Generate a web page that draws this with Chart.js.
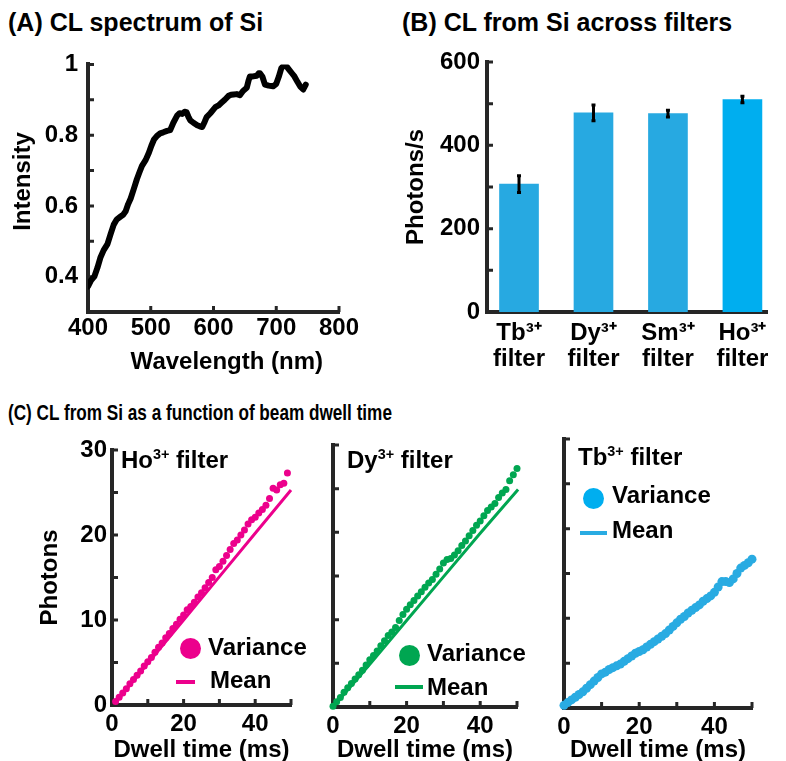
<!DOCTYPE html>
<html>
<head>
<meta charset="utf-8">
<script src="https://cdn.jsdelivr.net/npm/chart.js@4.4.1/dist/chart.umd.min.js"></script>
<style>
  body { margin: 0; width: 786px; height: 761px; overflow: hidden; background: #fff; position: relative;
         font-family: "Liberation Sans", Arial, sans-serif; font-weight: bold; color: #000; }
  canvas { position: absolute; }
  .title { position: absolute; font-size: 25px; line-height: 25px; white-space: nowrap; }
  .narrow { font-size: 22px; line-height: 22px; transform: scaleX(0.78); transform-origin: left top; }
  .lbl { position: absolute; font-size: 24px; line-height: 24px; white-space: nowrap; }
  .lbl sup { font-size: 60%; line-height: 0; }
  .dot { position: absolute; width: 21px; height: 21px; border-radius: 50%; }
  .dash { position: absolute; height: 4px; }
</style>
</head>
<body>
<div class="title" style="left:8px;top:10px">(A) CL spectrum of Si</div>
<div class="title" style="left:402px;top:10px">(B) CL from Si across filters</div>
<div class="title narrow" style="left:8px;top:402px">(C) CL from Si as a function of beam dwell time</div>

<canvas id="specChart" width="395" height="350" style="left:0;top:40px"></canvas>
<canvas id="filterChart" width="396" height="350" style="left:390px;top:40px"></canvas>
<canvas id="hoChart" width="300" height="345" style="left:20px;top:420px"></canvas>
<canvas id="dyChart" width="300" height="345" style="left:245px;top:420px"></canvas>
<canvas id="tbChart" width="316" height="355" style="left:470px;top:410px"></canvas>

<div class="lbl" style="left:121px;top:448px">Ho<sup>3+</sup> filter</div>
<span class="dot" style="left:180px;top:638px;background:#EC008C"></span>
<div class="lbl" style="left:208px;top:635px">Variance</div>
<span class="dash" style="left:176px;top:680px;width:19px;background:#EC008C"></span>
<div class="lbl" style="left:210px;top:668px">Mean</div>

<div class="lbl" style="left:347px;top:448px">Dy<sup>3+</sup> filter</div>
<span class="dot" style="left:399px;top:645px;background:#00A651"></span>
<div class="lbl" style="left:427px;top:641px">Variance</div>
<span class="dash" style="left:395px;top:685px;width:28px;background:#00A651"></span>
<div class="lbl" style="left:427px;top:675px">Mean</div>

<div class="lbl" style="left:578px;top:445px">Tb<sup>3+</sup> filter</div>
<span class="dot" style="left:583px;top:488px;background:#00AEEF"></span>
<div class="lbl" style="left:612px;top:483px">Variance</div>
<span class="dash" style="left:580px;top:531px;width:27px;background:#29ABE2"></span>
<div class="lbl" style="left:612px;top:518px">Mean</div>

<script>
// (A) CL spectrum
const wavelength = [400, 405, 410, 415, 420, 425, 431, 436, 441, 446, 452, 456, 460, 464, 468, 473, 478, 482, 486, 492,
  497, 501, 505, 510, 515, 520, 526, 531, 536, 542, 546, 550, 554, 557, 560, 563, 568, 574, 578, 582,
  586, 589, 595, 603, 608, 613, 618, 624, 628, 632, 637, 642, 647, 653, 656, 658, 663, 669, 672, 674,
  678, 682, 688, 695, 700, 704, 708, 711, 714, 717, 721, 725, 729, 734, 738, 743, 747];
const intensity = [0.372, 0.39, 0.40, 0.425, 0.455, 0.475, 0.492, 0.52, 0.547, 0.562, 0.570, 0.575, 0.585, 0.605, 0.621, 0.648, 0.676, 0.695, 0.713, 0.730,
  0.750, 0.770, 0.787, 0.798, 0.805, 0.808, 0.812, 0.814, 0.835, 0.855, 0.862, 0.860, 0.866, 0.865, 0.852, 0.842, 0.835, 0.828, 0.825, 0.823,
  0.838, 0.851, 0.862, 0.879, 0.884, 0.892, 0.900, 0.911, 0.914, 0.915, 0.916, 0.913, 0.925, 0.934, 0.955, 0.966, 0.966, 0.968, 0.975, 0.975,
  0.965, 0.943, 0.940, 0.938, 0.945, 0.965, 0.989, 0.995, 0.998, 0.993, 0.984, 0.975, 0.966, 0.950, 0.938, 0.929, 0.943];
const specXTicks = [400, 500, 600, 700, 800];
const specXLabels = ['400', '500', '600', '700', '800'];
const specYTicks = [0.3, 0.4, 0.5, 0.6, 0.7, 0.8, 0.9, 1.0];
const specYLabels = ['', '0.4', '', '0.6', '', '0.8', '', '1'];

// (B) CL across filters
const filterNames = [['Tb³⁺', 'filter'], ['Dy³⁺', 'filter'], ['Sm³⁺', 'filter'], ['Ho³⁺', 'filter']];
const filterPos = [1, 2, 3, 4];
const photonRate = [307, 478, 476, 510];
const photonErr = [20, 19, 8, 8];
const rateTicks = [0, 100, 200, 300, 400, 500, 600];
const rateLabels = ['0', '', '200', '', '400', '', '600'];

// (C) dwell time series
const dwellTicks = [0, 10, 20, 30, 40, 50];
const dwellLabels = ['0', '', '20', '', '40', ''];
const photonTicks = [0, 5, 10, 15, 20, 25, 30];
const photonLabels = ['0', '', '10', '', '20', '', '30'];

const hoDwell = [1, 2, 3, 4, 5, 6, 7, 8, 9, 10, 11, 12, 13, 14, 15, 16, 17, 18, 19, 20, 21, 22, 23, 24, 25,
  26, 27, 28, 29, 30, 31, 32, 33, 34, 35, 36, 37, 38, 39, 40, 41, 42, 43, 44, 45, 46, 47, 48, 49];
const hoVariance = [0.4, 0.9, 1.4, 1.9, 2.5, 3.0, 3.5, 4.0, 4.6, 5.1, 5.6, 6.2, 6.8, 7.3, 7.9, 8.4, 9.0, 9.5, 10.1, 10.6,
  11.2, 11.6, 12.1, 12.7, 13.2, 13.8, 14.4, 15.0, 15.9, 16.3, 16.9, 17.6, 18.3, 19.0, 19.4, 20.0, 20.6, 21.3, 21.8, 22.1,
  22.6, 23.0, 23.5, 24.3, 25.5, 25.3, 25.9, 26.1, 27.3];
const hoMeanDwell = [1, 10, 20, 30, 40, 50];
const hoMean = [0.3, 4.9, 10.0, 15.1, 20.2, 25.3];

const dyDwell = [0, 1, 2, 3, 4, 5, 6, 7, 8, 9, 10, 11, 12, 13, 14, 15, 16, 17, 18, 19, 20, 21, 22, 23, 24, 25,
  26, 27, 28, 29, 30, 31, 32, 33, 34, 35, 36, 37, 38, 39, 40, 41, 42, 43, 44, 45, 46, 47, 48, 49, 50];
const dyVariance = [0.1, 0.6, 1.1, 1.7, 2.2, 2.7, 3.2, 3.7, 4.2, 4.8, 5.4, 5.9, 6.4, 7.0, 7.6, 8.2, 8.6, 9.1, 9.9, 10.6,
  11.2, 11.7, 12.2, 12.7, 13.2, 13.7, 14.2, 14.6, 15.2, 15.8, 16.5, 16.9, 17.0, 17.4, 17.9, 18.5, 19.0, 19.6, 20.2, 20.8,
  21.3, 21.9, 22.5, 22.9, 23.3, 24.0, 24.5, 24.9, 25.9, 26.6, 27.3];
const dyMeanDwell = [0, 10, 20, 30, 40, 50.3];
const dyMean = [0, 4.9, 9.9, 14.9, 19.9, 24.9];

const tbDwell = [0, 1, 2, 3, 4, 5, 6, 7, 8, 9, 10, 11, 12, 13, 14, 15, 16, 17, 18, 19, 20, 21, 22, 23, 24, 25,
  26, 27, 28, 29, 30, 31, 32, 33, 34, 35, 36, 37, 38, 39, 40, 41, 42, 43, 44, 45, 46, 47, 48, 49, 50];
const tbVariance = [0.3, 0.6, 0.9, 1.2, 1.5, 1.8, 2.2, 2.6, 3.0, 3.4, 3.8, 4.0, 4.3, 4.5, 4.7, 4.9, 5.2, 5.5, 5.8, 6.1,
  6.3, 6.5, 6.8, 7.1, 7.4, 7.7, 8.0, 8.3, 8.7, 9.1, 9.5, 9.9, 10.2, 10.6, 10.9, 11.2, 11.5, 11.9, 12.2, 12.5,
  12.9, 13.5, 14.1, 14.1, 14.0, 14.4, 15.0, 15.6, 15.9, 16.2, 16.6];
const tbMean = [0.2, 0.5, 0.8, 1.2, 1.5, 1.8, 2.2, 2.6, 3.0, 3.4, 3.7, 4.0, 4.2, 4.4, 4.6, 4.9, 5.1, 5.4, 5.7, 5.9,
  6.2, 6.4, 6.7, 7.0, 7.3, 7.6, 7.9, 8.3, 8.6, 9.0, 9.4, 9.8, 10.1, 10.5, 10.8, 11.1, 11.5, 11.8, 12.1, 12.5,
  12.9, 13.5, 14.0, 14.0, 14.0, 14.4, 15.0, 15.5, 15.9, 16.2, 16.5];

const AXIS_COLOR = '#262626';
const HO_COLOR = '#EC008C';
const DY_COLOR = '#00A651';
const TB_COLOR = '#29ABE2';
const barColors = ['#27A9E1', '#27A9E1', '#27A9E1', '#00AEEF'];

Chart.defaults.font.family = '"Liberation Sans", Arial, sans-serif';
Chart.defaults.font.size = 24;
Chart.defaults.font.weight = 'bold';
Chart.defaults.color = '#000';
Chart.defaults.animation = false;
Chart.defaults.plugins.legend.display = false;
Chart.defaults.plugins.tooltip.enabled = false;

// matlab style tick marks pointing into the plot
const inwardTicks = {
  id: 'inwardTicks',
  beforeDatasetsDraw(chart) {
    const { ctx, chartArea: a, scales } = chart;
    ctx.save();
    ctx.strokeStyle = AXIS_COLOR;
    ctx.lineWidth = 3;
    ctx.beginPath();
    scales.x.ticks.forEach(t => {
      const px = scales.x.getPixelForValue(t.value);
      ctx.moveTo(px, a.bottom);
      ctx.lineTo(px, a.bottom - 6);
    });
    scales.y.ticks.forEach(t => {
      const py = scales.y.getPixelForValue(t.value);
      ctx.moveTo(a.left, py);
      ctx.lineTo(a.left + 6, py);
    });
    ctx.stroke();
    ctx.restore();
  }
};
Chart.register(inwardTicks);

const errorBars = {
  id: 'errorBars',
  afterDatasetsDraw(chart) {
    const { ctx, scales: { x, y } } = chart;
    ctx.save();
    ctx.strokeStyle = '#000';
    ctx.lineWidth = 3;
    ctx.beginPath();
    photonRate.forEach((v, i) => {
      const px = x.getPixelForValue(filterPos[i]);
      const top = y.getPixelForValue(v + photonErr[i]);
      const bot = y.getPixelForValue(v - photonErr[i]);
      ctx.moveTo(px, top); ctx.lineTo(px, bot);
      ctx.moveTo(px - 2, top); ctx.lineTo(px + 2, top);
      ctx.moveTo(px - 2, bot); ctx.lineTo(px + 2, bot);
    });
    ctx.stroke();
    ctx.restore();
  }
};

// linear axis with fixed tick list, fixed box size and optional title
function axis(o) {
  const horizontal = o.pos === 'bottom';
  return {
    type: 'linear',
    position: o.pos,
    min: o.min,
    max: o.max,
    offset: false,
    grid: { display: false, drawTicks: false, offset: false },
    border: { color: AXIS_COLOR, width: 4 },
    afterBuildTicks: s => { s.ticks = o.ticks.map(v => ({ value: v })); },
    afterFit: s => { if (horizontal) s.height = o.size; else s.width = o.size; },
    ticks: {
      display: o.labels !== undefined,
      autoSkip: false,
      maxRotation: 0,
      padding: o.pad,
      font: { size: 24, weight: 'bold', lineHeight: o.lineHeight || 1.2 },
      callback: (v, i) => o.labels ? o.labels[i] : ''
    },
    title: {
      display: !!o.title,
      text: o.title,
      padding: 0,
      font: { size: 24, weight: 'bold', lineHeight: 1 }
    }
  };
}

function points(xs, ys) {
  return xs.map((x, i) => ({ x: x, y: ys[i] }));
}

new Chart(document.getElementById('specChart'), {
  type: 'line',
  data: {
    datasets: [{
      data: points(wavelength, intensity),
      borderColor: '#000',
      borderWidth: 6,
      borderJoinStyle: 'round',
      borderCapStyle: 'round',
      pointRadius: 0,
      tension: 0
    }]
  },
  options: {
    responsive: false,
    devicePixelRatio: 1,
    layout: { padding: { left: 11, top: 19, right: 56, bottom: 16 } },
    scales: {
      x: axis({ pos: 'bottom', min: 400, max: 800, ticks: specXTicks, labels: specXLabels, size: 62, pad: 2, title: '    Wavelength (nm)' }),
      y: axis({ pos: 'left', min: 0.3, max: 1.0, ticks: specYTicks, labels: specYLabels, size: 77, pad: 10, title: '  Intensity' })
    }
  }
});

new Chart(document.getElementById('filterChart'), {
  type: 'bar',
  data: {
    datasets: [{
      data: points(filterPos, photonRate),
      backgroundColor: barColors,
      barThickness: 39
    }]
  },
  options: {
    responsive: false,
    devicePixelRatio: 1,
    layout: { padding: { left: 14, top: 22, right: 19, bottom: 10 } },
    scales: {
      x: axis({ pos: 'bottom', min: 0.57, max: 4.33, ticks: filterPos, labels: filterNames, size: 68, pad: 8, lineHeight: 1.1 }),
      y: axis({ pos: 'left', min: 0, max: 600, ticks: rateTicks, labels: rateLabels, size: 83, pad: 7, title: 'Photons/s' })
    }
  },
  plugins: [errorBars]
});

function dwellChart(id, color, variance, mean, frame) {
  new Chart(document.getElementById(id), {
    type: 'scatter',
    data: {
      datasets: [
        { data: variance, backgroundColor: color, borderColor: color, pointRadius: frame.dot, borderWidth: 0, clip: false },
        { type: 'line', data: mean, borderColor: color, borderWidth: frame.line, pointRadius: 0, showLine: true, tension: 0, clip: false }
      ]
    },
    options: {
      responsive: false,
      devicePixelRatio: 1,
      layout: { padding: frame.padding },
      scales: {
        x: axis({ pos: 'bottom', min: 0, max: 50, ticks: dwellTicks, labels: dwellLabels, size: frame.xSize, pad: 5, title: 'Dwell time (ms)' }),
        y: axis({ pos: 'left', min: 0, max: 30, ticks: photonTicks, labels: frame.yLabels, size: frame.ySize, pad: 5, title: frame.yTitle })
      }
    }
  });
}

dwellChart('hoChart', HO_COLOR, points(hoDwell, hoVariance), points(hoMeanDwell, hoMean), {
  padding: { left: 18, top: 30, right: 29, bottom: 3 }, xSize: 57, ySize: 74, yLabels: photonLabels, yTitle: 'Photons', dot: 3.5, line: 3
});
dwellChart('dyChart', DY_COLOR, points(dyDwell, dyVariance), points(dyMeanDwell, dyMean), {
  padding: { left: 10, top: 25, right: 28, bottom: 3 }, xSize: 55, ySize: 78, dot: 3.5, line: 3
});
dwellChart('tbChart', TB_COLOR, points(tbDwell, tbVariance), points(tbDwell, tbMean), {
  padding: { left: 10, top: 29, right: 34, bottom: 3 }, xSize: 54, ySize: 84, dot: 4.5, line: 4
});
</script>
</body>
</html>
